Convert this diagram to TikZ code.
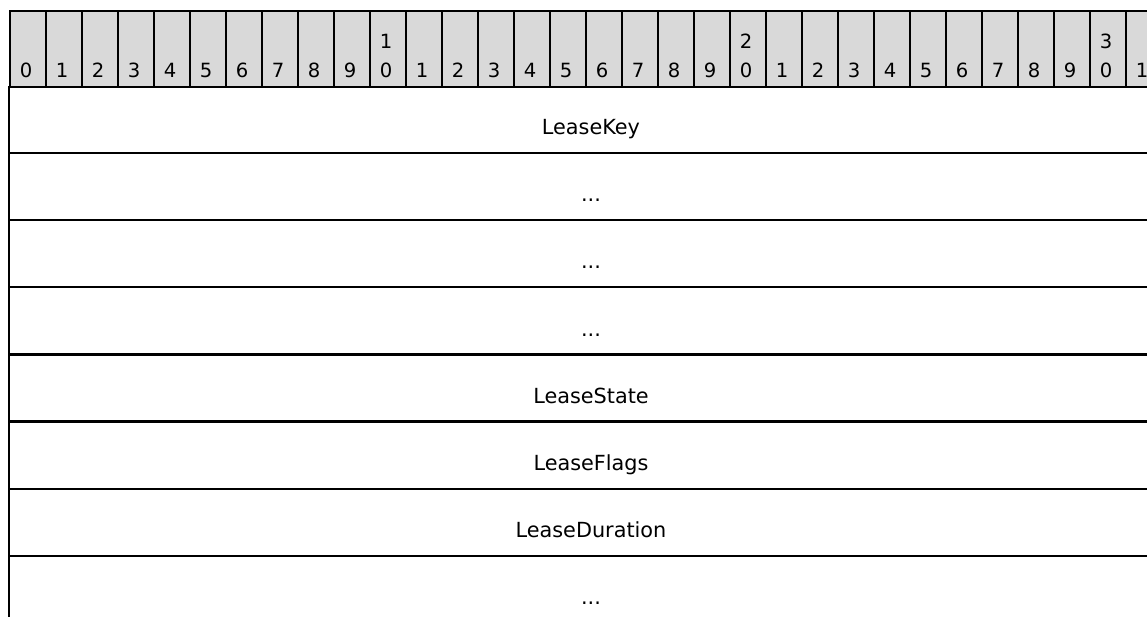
\documentclass[tikz,border=0pt]{standalone}
\usepackage{fontspec}
\setmainfont{DejaVu Sans}
\definecolor{headgray}{HTML}{D9D9D9}
\tikzset{
  bitcell/.style={draw,fill=headgray,line width=1.1pt,minimum width=18pt,
    minimum height=37.75pt,inner sep=0pt,anchor=north west},
  bitnum/.style={anchor=base,inner sep=0pt,font=\fontsize{9.8}{10}\selectfont},
  fieldname/.style={anchor=base,inner sep=0pt,font=\fontsize{10.4}{12}\selectfont},
  rowline/.style={line width=1.2pt}
}
\begin{document}
\begin{tikzpicture}[x=0.5pt,y=-0.5pt]
  \useasboundingbox (0,0) rectangle (1147,617);
  \clip (0,0) rectangle (1147,617);
  % bit ruler
  \foreach \i in {0,...,31}
    \node[bitcell] (c\i) at ({9+36*\i},10) {};
  \foreach \i/\u in {0/0,1/1,2/2,3/3,4/4,5/5,6/6,7/7,8/8,9/9,
      10/0,11/1,12/2,13/3,14/4,15/5,16/6,17/7,18/8,19/9,
      20/0,21/1,22/2,23/3,24/4,25/5,26/6,27/7,28/8,29/9,30/0,31/1}
    \node[bitnum] (u\i) at ({26+36*\i},77) {\u};
  \node[bitnum] (t10) at (386,48.5) {1};
  \node[bitnum] (t20) at (746,48.5) {2};
  \node[bitnum] (t30) at (1106,48.5) {3};
  % fields
  \coordinate (lt) at (9,85.5);
  \coordinate (lb) at (9,617);
  \draw[rowline] (lt) -- (lb);
  \foreach \k in {1,...,7}
    \draw[rowline] (9,{85.5+67.2*\k}) -- (1160,{85.5+67.2*\k});
  \draw
    (591,134.5) node[fieldname] (f0){LeaseKey}
    (591,201.7) node[fieldname] (f1){...}
    (591,268.9) node[fieldname] (f2){...}
    (591,336.1) node[fieldname] (f3){...}
    (591,403.3) node[fieldname] (f4){LeaseState}
    (591,470.5) node[fieldname] (f5){LeaseFlags}
    (591,537.7) node[fieldname] (f6){LeaseDuration}
    (591,604.9) node[fieldname] (f7){...};
\end{tikzpicture}
\end{document}
